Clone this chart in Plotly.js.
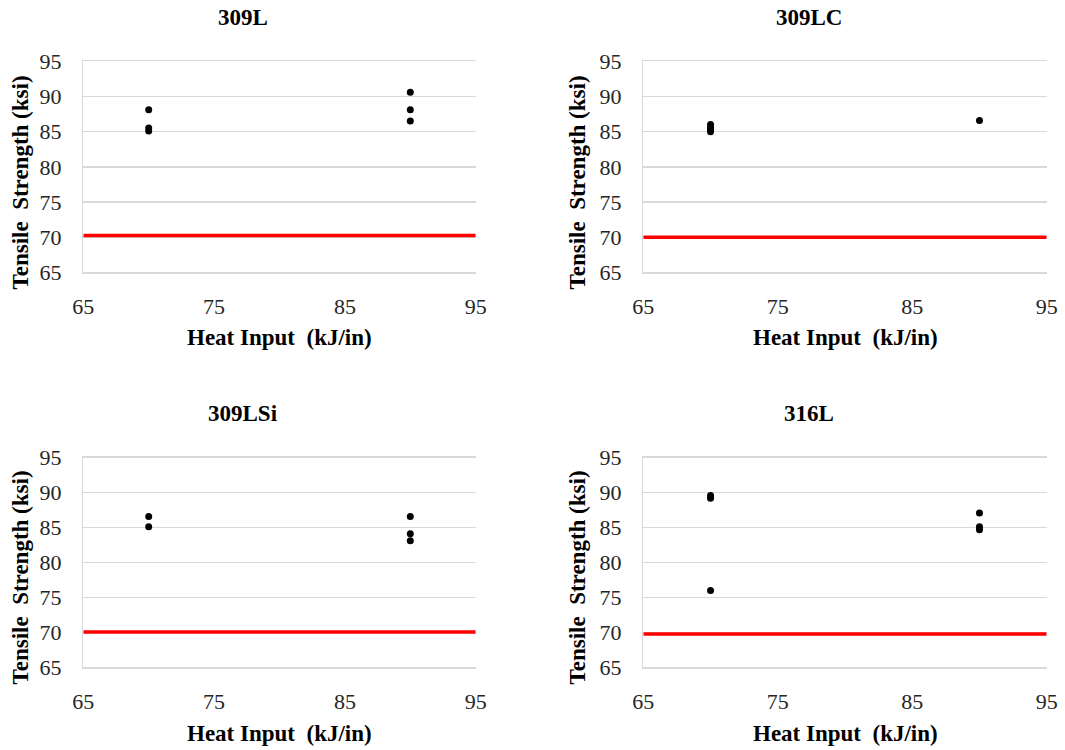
<!DOCTYPE html>
<html>
<head>
<meta charset="utf-8">
<script src="https://cdn.plot.ly/plotly-3.0.1.min.js"></script>
<style>
  html, body { margin: 0; padding: 0; background: #ffffff; }
  #chart { width: 1065px; height: 750px; }
</style>
</head>
<body>
<div id="chart"></div>
<script>
// ---- Data ----
const panelTitles = ["309L", "309LC", "309LSi", "316L"];

const heatInput309L = [70, 70, 70, 90, 90, 90];
const strength309L  = [88.1, 85.5, 85.1, 90.6, 88.1, 86.5];

const heatInput309LC = [70, 70, 70, 70, 90];
const strength309LC  = [86.0, 85.6, 85.3, 85.0, 86.6];

const heatInput309LSi = [70, 70, 90, 90, 90];
const strength309LSi  = [86.6, 85.1, 86.6, 84.1, 83.1];

const heatInput316L = [70, 70, 70, 90, 90, 90];
const strength316L  = [89.6, 89.2, 76.0, 87.1, 85.1, 84.7];

const minRequirement = [70.25, 70.0, 70.05, 69.75];   // red line per panel
const heatInputSpan  = [65, 95];

const xTickVals = [65, 75, 85, 95];
const yTickVals = [65, 70, 75, 80, 85, 90, 95];

const xTitle = "Heat Input\u00a0 (kJ/in)";
const yTitle = "Tensile\u00a0 Strength (ksi)";

// ---- Layout helpers (pixel geometry of the 1065x750 canvas) ----
const W = 1065, H = 750;
const px = v => v / W;
const py = v => 1 - v / H;

const colsPx = [[83.3, 475.7], [643.3, 1046.7]];
const rowsPx = [[61.3, 272.3], [457.7, 667.3]];

const seriesX = [heatInput309L, heatInput309LC, heatInput309LSi, heatInput316L];
const seriesY = [strength309L, strength309LC, strength309LSi, strength316L];

const serif = "'Liberation Serif', 'Times New Roman', serif";
const gridCol = "#d9d9d9";

const data = [];
const layout = {
  width: W, height: H,
  margin: {l: 0, r: 0, t: 0, b: 0},
  paper_bgcolor: "#ffffff",
  plot_bgcolor: "#ffffff",
  showlegend: false,
  font: {family: serif, color: "#262626"},
  annotations: []
};

for (let i = 0; i < 4; i++) {
  const c = i % 2, r = Math.floor(i / 2);
  const sfx = i === 0 ? "" : String(i + 1);
  const xa = "x" + sfx, ya = "y" + sfx;

  data.push({
    type: "scatter", mode: "lines",
    x: heatInputSpan, y: [minRequirement[i], minRequirement[i]],
    xaxis: xa, yaxis: ya,
    line: {color: "#ff0000", width: 3.5},
    hoverinfo: "skip"
  });
  data.push({
    type: "scatter", mode: "markers",
    x: seriesX[i], y: seriesY[i],
    xaxis: xa, yaxis: ya,
    marker: {color: "#000000", size: 7},
    cliponaxis: false
  });

  layout["xaxis" + sfx] = {
    domain: [px(colsPx[c][0]), px(colsPx[c][1])],
    anchor: ya,
    range: [65, 95],
    tickmode: "array", tickvals: xTickVals,
    showgrid: false, zeroline: false,
    showline: true, mirror: true, linecolor: gridCol, linewidth: 1.5,
    ticks: "", ticklabelstandoff: 14,
    tickfont: {family: serif, size: 22, color: "#262626"},
    fixedrange: true
  };
  layout["yaxis" + sfx] = {
    domain: [py(rowsPx[r][1]), py(rowsPx[r][0])],
    anchor: xa,
    range: [65, 95],
    tickmode: "array", tickvals: yTickVals,
    showgrid: true, gridcolor: gridCol, gridwidth: 1.5,
    zeroline: false,
    showline: true, linecolor: gridCol, linewidth: 1.5,
    ticks: "", ticklabelstandoff: 16,
    tickfont: {family: serif, size: 22, color: "#262626"},
    fixedrange: true
  };

  const cx = (colsPx[c][0] + colsPx[c][1]) / 2;
  const titleY = r === 0 ? 17.5 : 413;
  const xTitleY = r === 0 ? 337 : 733;
  const yTitleX = c === 0 ? 20 : 577;
  const yTitleY = r === 0 ? 182.5 : 577.5;

  layout.annotations.push({
    text: "<b>" + panelTitles[i] + "</b>",
    xref: "paper", yref: "paper",
    x: px(cx - 36.5), y: py(titleY),
    xanchor: "center", yanchor: "middle",
    showarrow: false,
    font: {family: serif, size: 23, color: "#000000"}
  });
  layout.annotations.push({
    text: "<b>" + xTitle + "</b>",
    xref: "paper", yref: "paper",
    x: px(cx), y: py(xTitleY),
    xanchor: "center", yanchor: "middle",
    showarrow: false,
    font: {family: serif, size: 23, color: "#000000"}
  });
  layout.annotations.push({
    text: "<b>" + yTitle + "</b>",
    xref: "paper", yref: "paper",
    x: px(yTitleX), y: py(yTitleY),
    xanchor: "center", yanchor: "middle",
    textangle: -90,
    showarrow: false,
    font: {family: serif, size: 23, color: "#000000"}
  });
}

Plotly.newPlot("chart", data, layout, {displayModeBar: false, staticPlot: true});
</script>
</body>
</html>
